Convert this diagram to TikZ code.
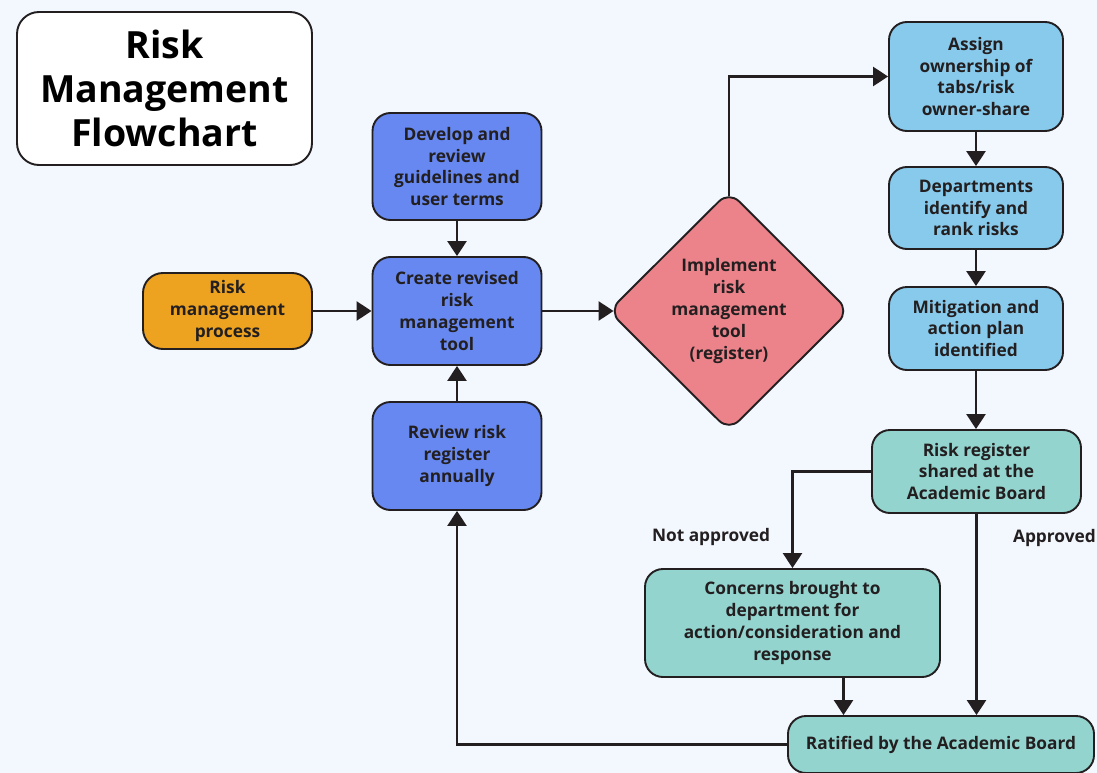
\documentclass[tikz,border=0pt]{standalone}
\usepackage{fontspec}
\setmainfont{Open Sans}
\newfontfamily\labelfont{Open Sans}
\usetikzlibrary{shapes.geometric,arrows.meta,calc}
\definecolor{bg}{HTML}{F3F7FE}
\definecolor{ink}{HTML}{231F20}
\definecolor{orangefill}{HTML}{EDA320}
\definecolor{bluefill}{HTML}{6688F0}
\definecolor{pinkfill}{HTML}{EC838A}
\definecolor{skyfill}{HTML}{88CAEC}
\definecolor{tealfill}{HTML}{93D4CF}
\tikzset{
  box/.style={draw=ink, line width=1.9pt, rounded corners=18pt, align=center,
    text=ink, inner sep=0pt, font=\labelfont\bfseries\fontsize{17.3}{21.8}\selectfont},
  arr/.style={draw=ink, line width=2.6pt, -{Triangle[width=19pt,length=15pt]}},
  lbl/.style={text=ink, inner sep=0pt, font=\labelfont\bfseries\fontsize{17.3}{21.8}\selectfont}
}
\begin{document}
\begin{tikzpicture}[x=1pt,y=-1pt]
\fill[bg] (0,0) rectangle (1097,773);
\useasboundingbox (0,0) rectangle (1097,773);

% title card
\node[box, fill=white, rounded corners=22pt, minimum width=295pt, minimum height=153pt,
  font=\labelfont\bfseries\fontsize{37.5}{44}\selectfont, text=black]
  (title) at (164.5,88.5) {Risk\\Management\\Flowchart};

% left column
\node[box, fill=orangefill, rounded corners=20pt, minimum width=169pt, minimum height=76pt]
  (rmp) at (227.5,311) {Risk\\management\\process};
\node[box, fill=bluefill, minimum width=169pt, minimum height=107pt]
  (dev) at (457,166.5) {Develop and\\review\\guidelines and\\user terms};
\node[box, fill=bluefill, minimum width=169pt, minimum height=108pt]
  (create) at (457,311) {Create revised\\risk\\management\\tool};
\node[box, fill=bluefill, minimum width=169pt, minimum height=108pt]
  (review) at (457,456) {Review risk\\register\\annually};

% decision
\node[box, diamond, fill=pinkfill, rounded corners=14pt, minimum width=241pt, minimum height=240pt]
  (impl) at (729,311) {Implement\\risk\\management\\tool\\(register)};
\coordinate (implW) at ($(impl.west)+(6,0)$);
\coordinate (implN) at ($(impl.north)+(0,6)$);

% right column
\node[box, fill=skyfill, minimum width=174pt, minimum height=109pt]
  (assign) at (976,76.5) {Assign\\ownership of\\tabs/risk\\owner-share};
\node[box, fill=skyfill, minimum width=174pt, minimum height=82pt]
  (dept) at (976,208) {Departments\\identify and\\rank risks};
\node[box, fill=skyfill, minimum width=174pt, minimum height=83pt]
  (mitig) at (976,328.5) {Mitigation and\\action plan\\identified};
\node[box, fill=tealfill, minimum width=209pt, minimum height=83pt]
  (shared) at (976.5,471.5) {Risk register\\shared at the\\Academic Board};
\node[box, fill=tealfill, minimum width=295pt, minimum height=108pt]
  (concerns) at (792.5,623) {Concerns brought to\\department for\\action/consideration and\\response};
\node[box, fill=tealfill, minimum width=306pt, minimum height=57pt]
  (ratified) at (941,744.5) {Ratified by the Academic Board};

% branch labels
\node[lbl] (notok) at (711,537) {Not approved};
\node[lbl, anchor=east] (ok) at (1096,538) {Approved};

% connectors
\draw[arr] (rmp.east) -- (create.west);
\draw[arr] (dev.south) -- (create.north);
\draw[arr] (review.north) -- (create.south);
\draw[arr] (create.east) -- (implW);
\draw[arr] (implN) |- (assign.west);
\draw[arr] (assign.south) -- (dept.north);
\draw[arr] (dept.south) -- (mitig.north);
\draw[arr] (mitig.south) -- (mitig.south |- shared.north);
\draw[arr] (shared.west) -| (concerns.north);
\draw[arr] (shared.south) -- (shared.south |- ratified.north);
\coordinate (cfoot) at ($(concerns.south)+(51,0)$);
\draw[arr] (cfoot) -- (cfoot |- ratified.north);
\draw[arr] (ratified.west) -| (review.south);
\end{tikzpicture}
\end{document}
